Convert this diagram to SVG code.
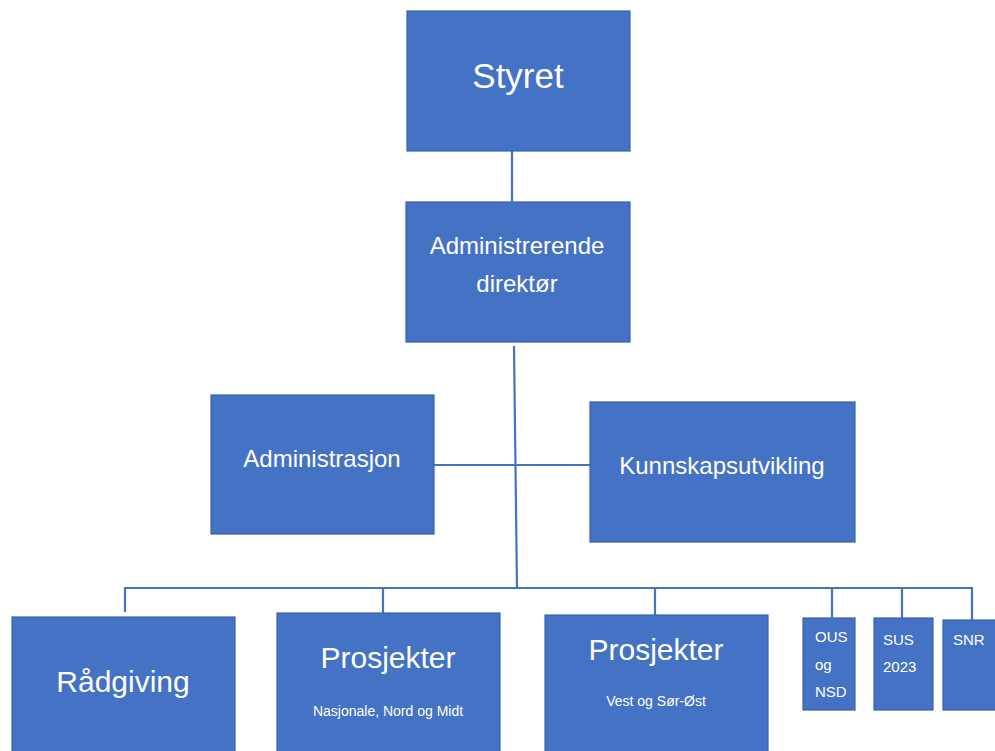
<svg xmlns="http://www.w3.org/2000/svg" width="995" height="751" viewBox="0 0 995 751">
<style>
.box{fill:#4472C4;stroke:#3A62AA;stroke-width:1.2}
.t{fill:#ffffff;font-family:"Liberation Sans",Arial,sans-serif}
.c{text-anchor:middle}
.ln{stroke:#4472C4;stroke-width:2.2;fill:none}
</style>
<rect width="995" height="751" fill="#ffffff"/>
<g id="connectors">
<line class="ln" x1="512" y1="151" x2="512" y2="202"/>
<line class="ln" x1="514" y1="346" x2="517" y2="588"/>
<line class="ln" x1="434" y1="465" x2="590" y2="465"/>
<polyline class="ln" points="125,612 125,588 972,588 972,620"/>
<line class="ln" x1="383" y1="588" x2="383" y2="613"/>
<line class="ln" x1="655" y1="588" x2="655" y2="615"/>
<line class="ln" x1="832" y1="588" x2="832" y2="618"/>
<line class="ln" x1="902" y1="588" x2="902" y2="618"/>
</g>
<g id="styret">
<rect class="box" x="407" y="11" width="223" height="140"/>
<text class="t c" x="518" y="88" font-size="35">Styret</text>
</g>
<g id="adm-dir">
<rect class="box" x="406" y="202" width="224" height="140"/>
<text class="t c" x="517" y="254" font-size="24">Administrerende</text>
<text class="t c" x="517" y="292" font-size="24">direktør</text>
</g>
<g id="administrasjon">
<rect class="box" x="211" y="395" width="223" height="139"/>
<text class="t c" x="322" y="467" font-size="24">Administrasjon</text>
</g>
<g id="kunnskap">
<rect class="box" x="590" y="402" width="265" height="140"/>
<text class="t c" x="722" y="474" font-size="24">Kunnskapsutvikling</text>
</g>
<g id="radgiving">
<rect class="box" x="12" y="617" width="223" height="140"/>
<text class="t c" x="123" y="692" font-size="30">Rådgiving</text>
</g>
<g id="prosjekter1">
<rect class="box" x="277" y="613" width="223" height="144"/>
<text class="t c" x="388" y="668" font-size="30">Prosjekter</text>
<text class="t c" x="388" y="716" font-size="14">Nasjonale, Nord og Midt</text>
</g>
<g id="prosjekter2">
<rect class="box" x="545" y="615" width="223" height="142"/>
<text class="t c" x="656" y="660" font-size="30">Prosjekter</text>
<text class="t c" x="656" y="706" font-size="14">Vest og Sør-Øst</text>
</g>
<g id="ous">
<rect class="box" x="803" y="618" width="52" height="92"/>
<text class="t" x="815" y="642" font-size="15">OUS</text>
<text class="t" x="815" y="670" font-size="15">og</text>
<text class="t" x="815" y="697" font-size="15">NSD</text>
</g>
<g id="sus">
<rect class="box" x="874" y="618" width="59" height="92"/>
<text class="t" x="883" y="645" font-size="15">SUS</text>
<text class="t" x="883" y="672" font-size="15">2023</text>
</g>
<g id="snr">
<rect class="box" x="943" y="620" width="60" height="90"/>
<text class="t" x="953" y="645" font-size="15">SNR</text>
</g>
</svg>
